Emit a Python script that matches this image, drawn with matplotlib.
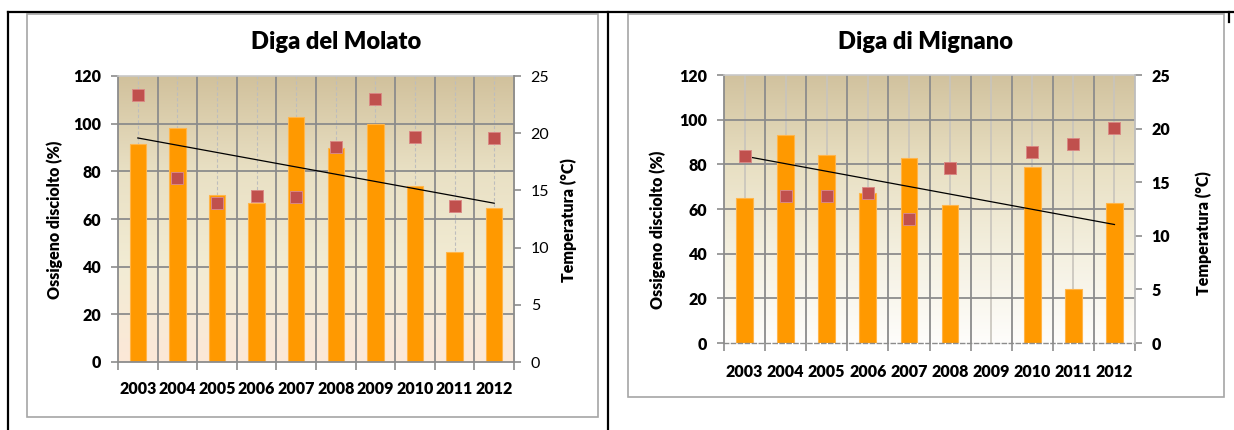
import numpy as np
import matplotlib.pyplot as plt
from matplotlib.colors import LinearSegmentedColormap
from matplotlib.lines import Line2D
from matplotlib.patches import Rectangle

plt.rcParams['font.family'] = ['Lato', 'DejaVu Sans']

years = ['2003', '2004', '2005', '2006', '2007', '2008', '2009', '2010', '2011', '2012']

# Diga del Molato
molato_o2 = [91.3, 98.2, 70.1, 66.7, 102.8, 89.9, 99.9, 73.7, 46.0, 64.5]
molato_temp = [23.3, 16.1, 13.9, 14.5, 14.4, 18.8, 23.0, 19.7, 13.6, 19.6]

# Diga di Mignano (no 2009 sample)
mignano_o2 = [65.0, 93.2, 84.2, 67.2, 82.9, 61.9, np.nan, 78.9, 24.3, 62.8]
mignano_temp = [17.4, 13.7, 13.7, 14.0, 11.6, 16.3, np.nan, 17.8, 18.6, 20.1]

W, H = 1234, 430
fig = plt.figure(figsize=(W / 100, H / 100), dpi=100)

FS = 11.5
WT = 'heavy'


def px_box(x0, y0, x1, y1):
    return [x0 / W, 1 - y1 / H, (x1 - x0) / W, (y1 - y0) / H]


def panel(box, title, o2, temp, grad, center_ls, right_bold, dashed_base,
          title_xy, ylab_l, ylab_r, xpad):
    ax = fig.add_axes(box)
    n = len(years)
    x = np.arange(n)
    ax.set_xlim(-0.5, n - 0.5)
    ax.set_ylim(0, 120)

    cmap = LinearSegmentedColormap.from_list('bg', grad)
    ax.imshow(np.linspace(1, 0, 256).reshape(-1, 1), cmap=cmap, aspect='auto',
              extent=[-0.5, n - 0.5, 0, 120], zorder=0, interpolation='bilinear')

    for yv in range(20, 120, 20):
        ax.axhline(yv, color='#8C8C8C', lw=1.3, zorder=0.6)
    for xb in np.arange(0.5, n - 1, 1):
        ax.axvline(xb, color='#8C8C8C', lw=1.3, zorder=0.6)
    for xc in x:
        if center_ls == 'dashed':
            ax.axvline(xc, color='#BDBDBD', lw=0.8, ls=(0, (3, 2)), zorder=0.5)
        else:
            ax.axvline(xc, color='#C8C4BC', lw=1.2, zorder=0.5)

    o2 = np.array(o2, dtype=float)
    ax.bar(x, o2, width=0.41, color='#FF9900', edgecolor='#FFB54A', lw=0.8, zorder=2)

    # linear trend of the oxygen series
    ok = ~np.isnan(o2)
    k, q = np.polyfit(x[ok] + 1, o2[ok], 1)
    ax.plot([x[0], x[-1]], [k * 1 + q, k * n + q], color='black', lw=0.9, zorder=3)

    ax.set_yticks(range(0, 121, 20))
    ax.set_xticks(x)
    ax.set_xticklabels(years, fontweight=WT, fontsize=FS)
    ax.set_xticks(np.arange(-0.5, n, 1), minor=True)
    ax.tick_params(axis='x', which='major', length=0, pad=xpad)
    ax.tick_params(axis='x', which='minor', length=6, color='#8C8C8C', width=1.2)
    ax.tick_params(axis='y', length=5, color='#8C8C8C', width=1.2, pad=7, labelsize=FS)
    for lab in ax.get_yticklabels():
        lab.set_fontweight(WT)

    for s in ['left', 'bottom']:
        ax.spines[s].set_color('#8C8C8C')
        ax.spines[s].set_linewidth(1.3)
    ax.spines['top'].set_color('#C8C8C8')
    ax.spines['top'].set_linewidth(1.2)
    ax.spines['right'].set_visible(False)
    if dashed_base:
        ax.spines['bottom'].set_linestyle((0, (3, 2)))
        ax.spines['bottom'].set_linewidth(1.0)

    ax2 = ax.twinx()
    ax2.set_ylim(0, 25)
    ax2.set_yticks(range(0, 26, 5))
    ax2.plot(x, temp, ls='none', marker='s', ms=8, color='#C0504D',
             mec='#D98884', mew=0.7, zorder=4)
    for s in ['left', 'top', 'bottom']:
        ax2.spines[s].set_visible(False)
    ax2.spines['right'].set_color('#8C8C8C' if not dashed_base else '#BDBDBD')
    ax2.spines['right'].set_linewidth(1.3)
    ax2.tick_params(axis='y', length=5, color='#8C8C8C', width=1.2, pad=7, labelsize=FS)
    if right_bold:
        for lab in ax2.get_yticklabels():
            lab.set_fontweight(WT)

    fig.text(title_xy[0] / W, 1 - title_xy[1] / H, title, ha='center', va='center',
             fontsize=17, fontweight=WT)
    fig.text(ylab_l[0] / W, 1 - ylab_l[1] / H, 'Ossigeno disciolto (%)', rotation=90,
             ha='center', va='center', fontsize=FS, fontweight=WT)
    fig.text(ylab_r[0] / W, 1 - ylab_r[1] / H, 'Temperatura (°C)', rotation=90,
             ha='center', va='center', fontsize=FS, fontweight=WT)
    return ax


panel(px_box(118, 76, 514, 362), 'Diga del Molato', molato_o2, molato_temp,
      ['#FCE8D8', '#F2ECD4', '#E9E0C4', '#D1C19C'], 'dashed', False, False,
      (336, 42), (55, 220), (569, 220), 14)
panel(px_box(724, 75, 1135, 343), 'Diga di Mignano', mignano_o2, mignano_temp,
      ['#FEFDFB', '#F4F0E0', '#E8DFC2', '#D1C29E'], 'solid', True, True,
      (925, 42), (658, 230), (1204, 233), 15)

# chart frames and table rules
for x0, y0, x1, y1 in [(27, 14, 598, 417), (628, 14, 1224, 397)]:
    fig.add_artist(Rectangle((x0 / W, 1 - y1 / H), (x1 - x0) / W, (y1 - y0) / H,
                             transform=fig.transFigure, fill=False,
                             ec='#A6A6A6', lw=1.2))
rules = [((8, 1234), (12, 12)), ((8, 8), (12, 430)), ((608, 608), (12, 430)),
         ((1229, 1229), (12, 22))]
for xs, ys in rules:
    fig.add_artist(Line2D([v / W for v in xs], [1 - v / H for v in ys],
                          transform=fig.transFigure, color='black', lw=1.6))

fig.savefig('out.png', dpi=100)
